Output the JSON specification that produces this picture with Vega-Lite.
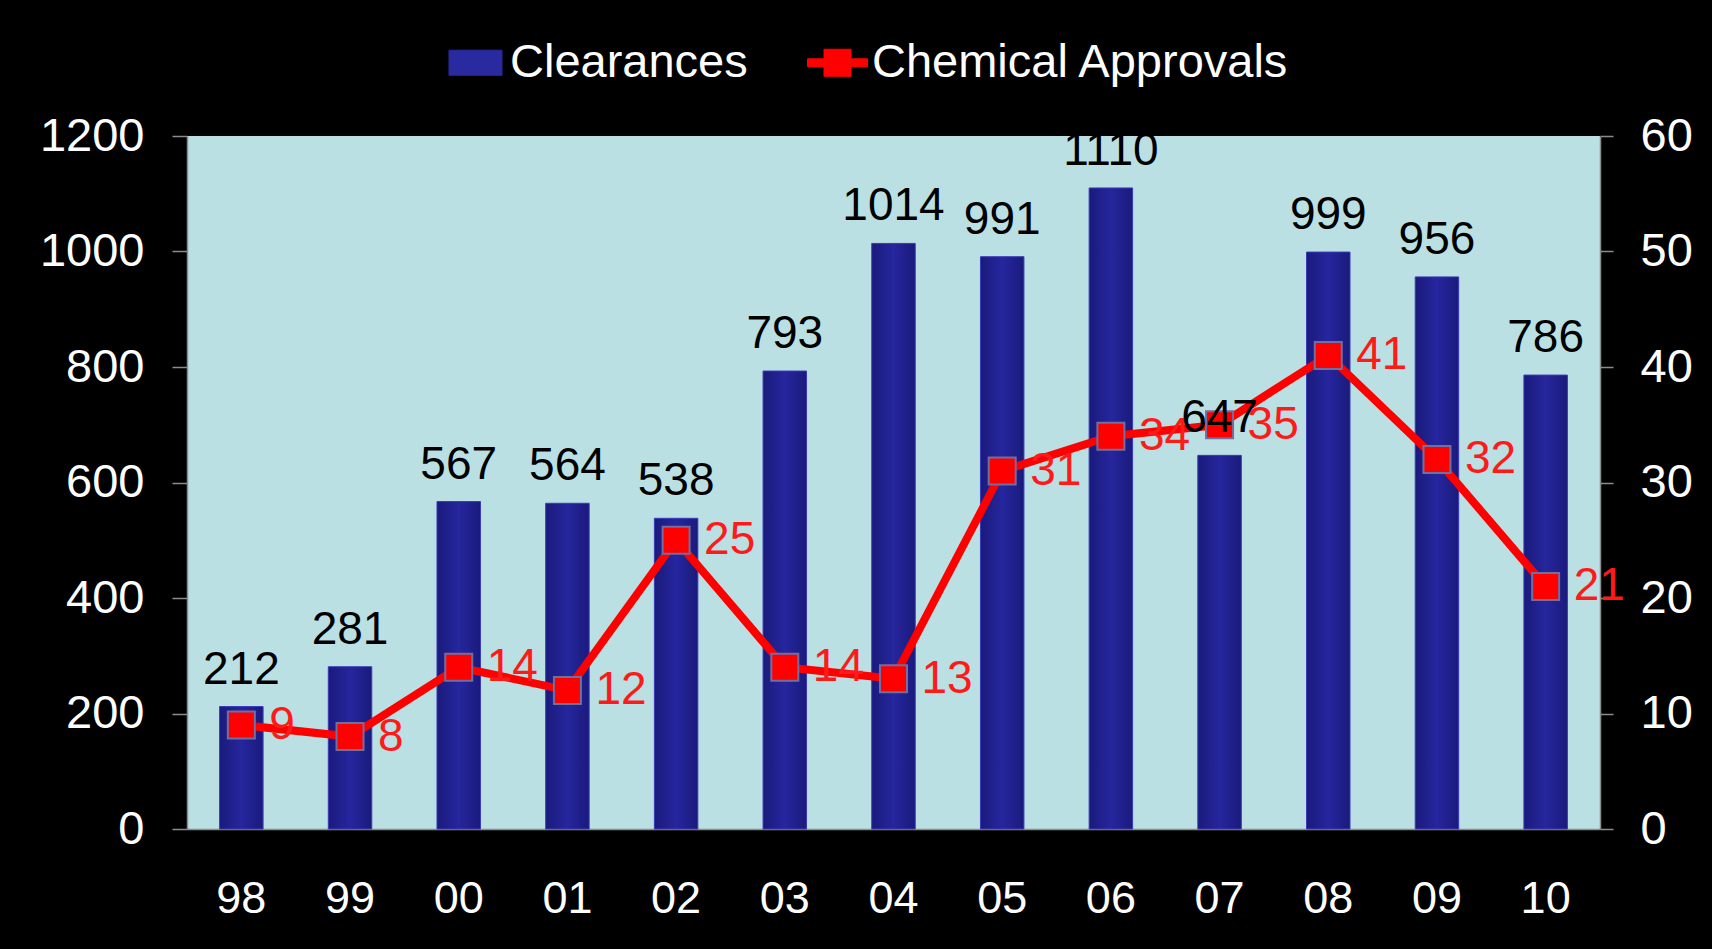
{
  "$schema": "https://vega.github.io/schema/vega-lite/v6.json",
  "width": 1413,
  "height": 693,
  "autosize": {"type": "none"},
  "padding": {"left": 187, "top": 136, "right": 112, "bottom": 120},
  "background": "#000000",
  "config": {
    "view": {"fill": "#bae0e3", "stroke": null},
    "font": "Liberation Sans",
    "axis": {"grid": false, "labelFont": "Liberation Sans", "labelColor": "#ffffff", "domainColor": "#8c8c8c", "domainWidth": 1.5, "tickColor": "#8c8c8c", "tickWidth": 1.5, "title": null}
  },
  "data": {
    "values": [
      {"year": "98", "clearances": 212, "approvals": 9},
      {"year": "99", "clearances": 281, "approvals": 8},
      {"year": "00", "clearances": 567, "approvals": 14},
      {"year": "01", "clearances": 564, "approvals": 12},
      {"year": "02", "clearances": 538, "approvals": 25},
      {"year": "03", "clearances": 793, "approvals": 14},
      {"year": "04", "clearances": 1014, "approvals": 13},
      {"year": "05", "clearances": 991, "approvals": 31},
      {"year": "06", "clearances": 1110, "approvals": 34},
      {"year": "07", "clearances": 647, "approvals": 35},
      {"year": "08", "clearances": 999, "approvals": 41},
      {"year": "09", "clearances": 956, "approvals": 32},
      {"year": "10", "clearances": 786, "approvals": 21}
    ]
  },
  "encoding": {
    "x": {
      "field": "year", "type": "ordinal", "sort": null,
      "scale": {"paddingInner": 0.6, "paddingOuter": 0.3},
      "axis": {"labelAngle": 0, "labelFontSize": 45, "ticks": false, "labelPadding": 47, "domainColor": "#8c8c8c"}
    }
  },
  "layer": [
    {
      "mark": {
        "type": "bar",
        "fill": {"gradient": "linear", "x1": 0, "x2": 1, "y1": 0, "y2": 0, "stops": [{"offset": 0, "color": "#1a1a7c"}, {"offset": 0.5, "color": "#26269e"}, {"offset": 1, "color": "#1a1a7c"}]},
        "stroke": "#3a3ab8",
        "strokeWidth": 1
      },
      "encoding": {
        "y": {
          "field": "clearances", "type": "quantitative",
          "scale": {"domain": [0, 1200]},
          "axis": {"orient": "left", "values": [0, 200, 400, 600, 800, 1000, 1200], "format": "d", "tickSize": 15, "labelPadding": 28, "labelFontSize": 47}
        }
      }
    },
    {
      "encoding": {
        "y": {
          "field": "approvals", "type": "quantitative",
          "scale": {"domain": [0, 60]},
          "axis": {"orient": "right", "values": [0, 10, 20, 30, 40, 50, 60], "format": "d", "tickSize": 13, "labelPadding": 27, "labelFontSize": 47}
        }
      },
      "layer": [
        {
          "mark": {"type": "line", "strokeWidth": 8},
          "encoding": {
            "color": {
              "datum": "Chemical Approvals",
              "scale": {"domain": ["Clearances", "Chemical Approvals"], "range": ["#2a2aa0", "#ff0000"]},
              "legend": {
                "orient": "none", "legendX": 258, "legendY": -104, "direction": "horizontal",
                "title": null, "padding": 0,
                "labelColor": "#ffffff", "labelFontSize": 47, "labelFont": "Liberation Sans", "labelLimit": 2000,
                "labelOffset": 4, "columnPadding": 57, "symbolSize": 3600,
                "encode": {
                  "symbols": {
                    "update": {
                      "shape": {"signal": "datum.value === 'Clearances' ? 'M-0.883,-0.417H0.883V0.417H-0.883Z' : 'M-1,-0.13H-0.45V-0.45H0.45V-0.13H1V0.13H0.45V0.45H-0.45V0.13H-1Z'"},
                      "fill": {"signal": "datum.value === 'Clearances' ? '#2a2aa0' : '#ff0000'"},
                      "stroke": {"signal": "datum.value === 'Clearances' ? '#4848c8' : '#ff0000'"},
                      "strokeWidth": {"value": 1},
                      "size": {"value": 3600},
                      "opacity": {"value": 1},
                      "fillOpacity": {"value": 1}
                    }
                  }
                }
              }
            }
          }
        },
        {
          "mark": {"type": "point", "shape": "square", "filled": true, "size": 729, "stroke": "#6f6fa0", "strokeWidth": 2, "opacity": 1},
          "encoding": {"color": {"datum": "Chemical Approvals"}}
        },
        {
          "mark": {"type": "text", "align": "left", "baseline": "middle", "dx": 28, "fontSize": 46, "color": "#ff1a1a"},
          "encoding": {"text": {"field": "approvals", "type": "quantitative"}}
        }
      ]
    },
    {
      "mark": {"type": "text", "baseline": "alphabetic", "dy": -23, "fontSize": 46, "color": "#000000"},
      "encoding": {
        "y": {"field": "clearances", "type": "quantitative", "scale": {"domain": [0, 1200]}, "axis": null},
        "text": {"field": "clearances", "type": "quantitative", "format": "d"}
      }
    }
  ],
  "resolve": {"scale": {"y": "independent"}}
}
